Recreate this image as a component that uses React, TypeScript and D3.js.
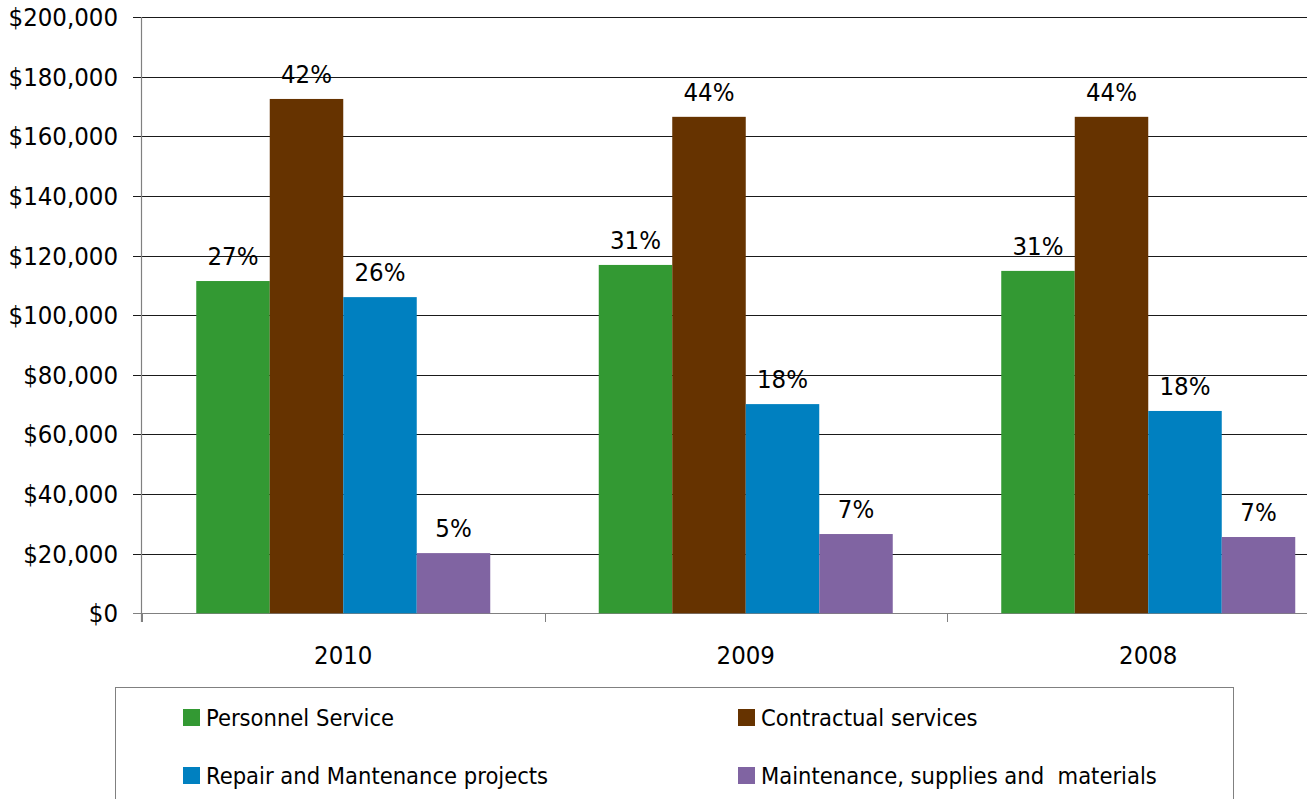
import React from "react";
import * as d3 from "d3";

const years = ["2010", "2009", "2008"];
const seriesNames = [
  "Personnel Service",
  "Contractual services",
  "Repair and Mantenance projects",
  "Maintenance, supplies and  materials",
];
const seriesColors = ["#339933", "#663300", "#0080C0", "#8064A2"];
const personnel = [111500, 116900, 114900];
const contractual = [172600, 166600, 166600];
const repair = [106100, 70200, 67900];
const supplies = [20200, 26600, 25600];
const percentLabels = [
  ["27%", "31%", "31%"],
  ["42%", "44%", "44%"],
  ["26%", "18%", "18%"],
  ["5%", "7%", "7%"],
];
const yTicks = [0, 20000, 40000, 60000, 80000, 100000, 120000, 140000, 160000, 180000, 200000];

const W = 1307;
const H = 799;
const FONT = "'DejaVu Sans Condensed', 'DejaVu Sans', sans-serif";

export default function App() {
  const series = [personnel, contractual, repair, supplies];
  const y = d3.scaleLinear().domain([0, 200000]).range([613.3, 17.3]);
  const x0 = d3.scaleBand().domain(years).range([142, 1349.5]).paddingInner(0).paddingOuter(0);
  const bw = x0.bandwidth();
  const barW = 73.5;
  const pad = (bw - barW * 4) / 2;
  const xi = d3.scaleBand().domain(seriesNames).range([pad, bw - pad]).padding(0);
  const fmt = (v: number) => "$" + d3.format(",")(v);
  const legendCols = [183, 738];
  const legendRows = [709, 767];

  return (
    <svg
      width={W}
      height={H}
      style={{ position: "absolute", left: 0, top: 0, background: "#fff" }}
      fontFamily={FONT}
    >
      <rect x={0} y={0} width={W} height={H} fill="#fff" />
      {yTicks.map((t) => (
        <line
          key={"g" + t}
          x1={133}
          x2={1349.5}
          y1={Math.round(y(t)) + 0.5}
          y2={Math.round(y(t)) + 0.5}
          stroke={t === 0 ? "#808080" : "#1a1a1a"}
          strokeWidth={1}
        />
      ))}
      <line x1={141.5} x2={141.5} y1={17} y2={622} stroke="#808080" strokeWidth={1.2} />
      {yTicks.map((t) => (
        <text
          key={"t" + t}
          x={118}
          y={y(t)}
          dy="0.35em"
          textAnchor="end"
          fontSize={25.5}
          fill="#000"
        >
          {fmt(t)}
        </text>
      ))}
      {[...years.map((yr) => x0(yr) as number), 1349.5].map((xx, i) => (
        <line key={"c" + i} x1={Math.round(xx) + 0.5} x2={Math.round(xx) + 0.5} y1={613} y2={622} stroke="#808080" strokeWidth={1} />
      ))}
      {years.map((yr, gi) => (
        <g key={yr} transform={`translate(${x0(yr)},0)`}>
          {series.map((s, si) => {
            const bx = xi(seriesNames[si]) as number;
            return (
              <g key={si}>
                <rect
                  x={bx}
                  y={y(s[gi])}
                  width={xi.bandwidth()}
                  height={y(0) - y(s[gi])}
                  fill={seriesColors[si]}
                />
                <text
                  x={bx + xi.bandwidth() / 2}
                  y={y(s[gi]) - 16}
                  textAnchor="middle"
                  fontSize={25.5}
                  fill="#000"
                >
                  {percentLabels[si][gi]}
                </text>
              </g>
            );
          })}
          <text x={bw / 2} y={655} dy="0.35em" textAnchor="middle" fontSize={25.5} fill="#000">
            {yr}
          </text>
        </g>
      ))}
      <rect x={115.5} y={687.5} width={1118} height={140} fill="#fff" stroke="#808080" strokeWidth={1} />
      {seriesNames.map((n, i) => {
        const cx = legendCols[i % 2];
        const cy = legendRows[Math.floor(i / 2)];
        return (
          <g key={n}>
            <rect x={cx} y={cy} width={17} height={17} fill={seriesColors[i]} />
            <text x={cx + 23} y={cy + 8.5} dy="0.36em" fontSize={23.5} fill="#000" style={{ whiteSpace: "pre" }}>
              {n}
            </text>
          </g>
        );
      })}
    </svg>
  );
}
